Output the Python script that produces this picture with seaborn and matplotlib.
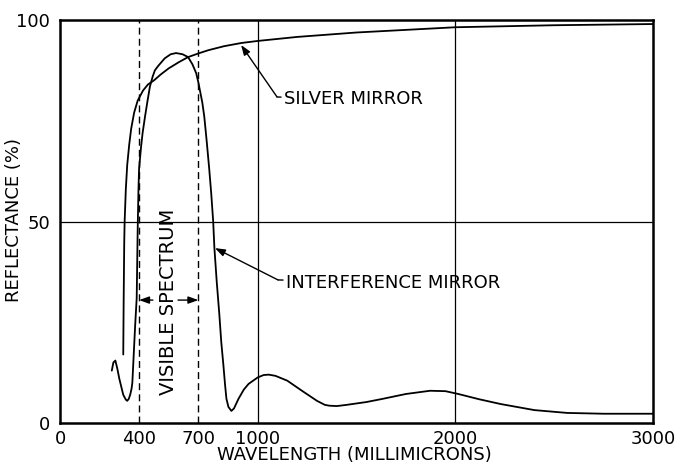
import matplotlib
matplotlib.use("Agg")
import matplotlib.pyplot as plt
import numpy as np
import pandas as pd
import seaborn as sns

# Reflectance curves (wavelength in millimicrons, reflectance in %)
silver_wl = [320, 322, 325, 327, 333, 340, 350, 360, 375, 393, 420, 445,
             475, 510, 550, 600, 648, 700, 750, 830, 918, 1000, 1200, 1500,
             2000, 2500, 3000]
silver_r = [17, 30, 45, 50, 58, 64, 69, 73, 77, 80, 82.5, 84,
            85, 86.5, 88, 89.5, 90.8, 91.7, 92.5, 93.5, 94.3, 94.8, 95.8, 96.9,
            98.2, 98.7, 99]

interf_wl = [262, 270, 280, 290, 300, 320, 333, 340, 348, 355, 362, 366,
             372, 380, 388, 393, 397, 400, 410, 418, 430, 443, 455, 469,
             480, 495, 530, 560, 587, 620, 648, 670, 689, 700, 710, 720,
             730, 742, 755, 765, 775, 781, 793, 806, 816, 826, 835, 842,
             852, 867, 880, 903, 930, 954, 1000, 1030, 1056, 1090, 1150, 1224,
             1300, 1340, 1362, 1400, 1450, 1550, 1633, 1750, 1872, 1950, 2015, 2120,
             2230, 2400, 2566, 2750, 3000]
interf_r = [13, 15, 15.5, 13.5, 11, 7, 5.8, 5.5, 6, 7, 8.5, 10,
            16, 24, 31, 48, 58, 63, 68.5, 72, 76, 80, 83.5, 86,
            87.5, 88.5, 90.5, 91.5, 91.8, 91.5, 90.8, 89, 86.8, 84.5, 82, 79.5,
            76, 70, 63, 57, 50, 43.5, 35, 27, 20, 14.7, 9.5, 6,
            4, 3, 3.6, 6, 8.3, 9.7, 11.3, 11.9, 12, 11.7, 10.5, 8,
            5.5, 4.5, 4.3, 4.2, 4.5, 5.2, 6, 7.2, 8, 7.9, 7.2, 5.9,
            4.7, 3.2, 2.5, 2.3, 2.3]

x_ticks = [0, 400, 700, 1000, 2000, 3000]
y_ticks = [0, 50, 100]
visible_band = [400, 700]

df = pd.concat([
    pd.DataFrame({"wavelength": silver_wl, "reflectance": silver_r,
                  "mirror": "SILVER MIRROR"}),
    pd.DataFrame({"wavelength": interf_wl, "reflectance": interf_r,
                  "mirror": "INTERFERENCE MIRROR"}),
])

sns.set_theme(style="white")
plt.rcParams["font.family"] = ["DejaVu Sans"]
plt.rcParams["text.color"] = "black"

fig = plt.figure(figsize=(6.85, 4.70), dpi=100)
ax = fig.add_axes([60 / 685, 47 / 470, 593 / 685, 403 / 470])

# reference grid: solid lines at 1000, 2000 and 50 %, dashed visible-band edges
for xv in (1000, 2000):
    ax.axvline(xv, color="black", lw=0.9, zorder=1)
ax.axhline(50, color="black", lw=0.9, zorder=1)
for xv in visible_band:
    ax.axvline(xv, color="black", lw=1.0, ls=(0, (5, 3)), zorder=1)

sns.lineplot(data=df, x="wavelength", y="reflectance", hue="mirror",
             units="mirror", estimator=None, sort=False,
             palette=["black", "black"], linewidth=1.3, legend=False, ax=ax)

ax.set_xlim(0, 3000)
ax.set_ylim(0, 100)
ax.set_xticks(x_ticks)
ax.set_xticklabels([str(v) for v in x_ticks])
ax.set_yticks(y_ticks)
ax.set_yticklabels([str(v) for v in y_ticks])
ax.tick_params(axis="both", length=0, labelsize=13, colors="black")
ax.tick_params(axis="x", pad=5)
ax.tick_params(axis="y", pad=7)

for sp in ax.spines.values():
    sp.set_color("black")
    sp.set_linewidth(1.8)

ax.set_xlabel("WAVELENGTH (MILLIMICRONS)", fontsize=13, color="black")
ax.set_ylabel("REFLECTANCE (%)", fontsize=13, color="black")
ax.xaxis.set_label_coords(0.496, -0.058)
ax.yaxis.set_label_coords(-0.062, 0.504)

head = dict(arrowstyle="-|>,head_length=0.5,head_width=0.18",
            color="black", lw=1.0, shrinkA=0, shrinkB=0)
line = dict(arrowstyle="-", color="black", lw=1.0, shrinkA=0, shrinkB=0)

# SILVER MIRROR leader
ax.annotate("", xy=(916, 93.8), xytext=(1098, 80.9), arrowprops=head)
ax.annotate("SILVER MIRROR", xy=(1098, 80.9), xytext=(1135, 80.3),
            fontsize=13, va="center", ha="left", arrowprops=line)

# INTERFERENCE MIRROR leader
ax.annotate("", xy=(784, 43.4), xytext=(1103, 35.5), arrowprops=head)
ax.annotate("INTERFERENCE MIRROR", xy=(1103, 35.5), xytext=(1145, 34.8),
            fontsize=13, va="center", ha="left", arrowprops=line)

# visible spectrum band label with arrows to the band edges
ax.text(548, 30, "VISIBLE SPECTRUM", rotation=90, fontsize=14,
        ha="center", va="center")
ax.annotate("", xy=(visible_band[0], 30.5), xytext=(470, 30.5), arrowprops=head)
ax.annotate("", xy=(visible_band[1], 30.5), xytext=(597, 30.5), arrowprops=head)

fig.savefig("out.png", dpi=100, facecolor="white")
